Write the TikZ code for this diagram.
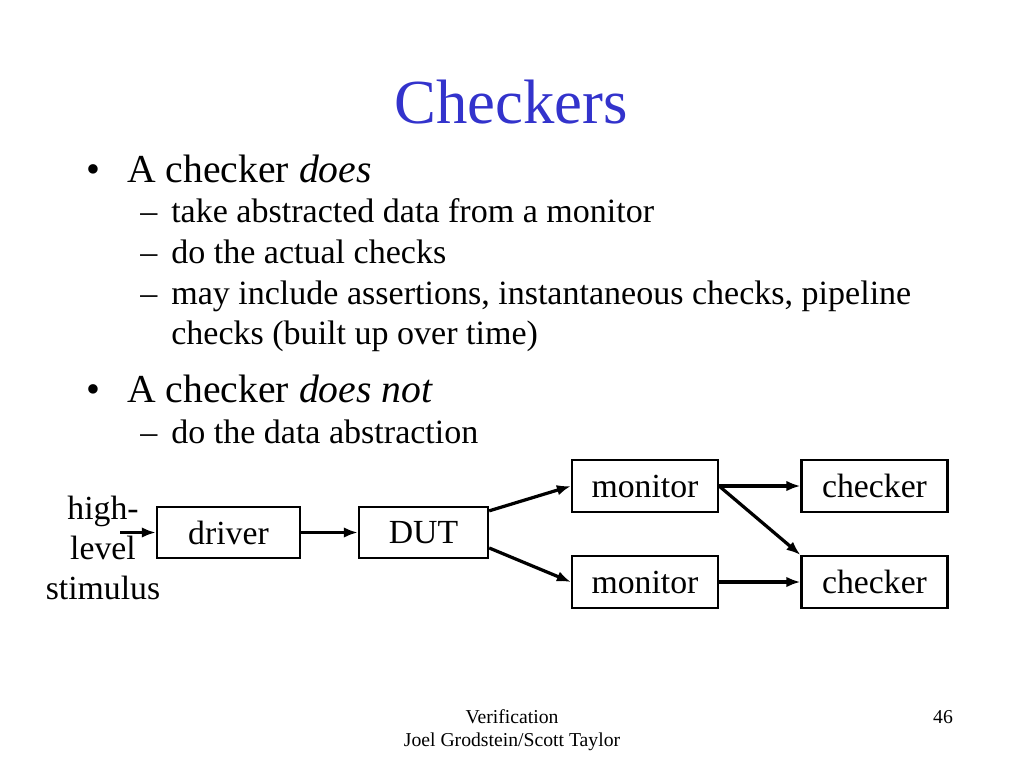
\documentclass[tikz,border=0pt]{standalone}
\usepackage{fontspec}
\setmainfont{Liberation Serif}
\usetikzlibrary{arrows.meta, positioning}
\definecolor{titleblue}{RGB}{51,51,204}
\tikzset{
  box/.style={rectangle, draw=black, fill=white, line width=1.5pt,
    minimum width=3.65cm, minimum height=1.3cm,
    font=\fontsize{24}{28}\selectfont},
  arrow/.style={-{Latex[length=10pt,width=7.5pt]}, line width=2.3pt},
  bodytext/.style={anchor=base west, font=\fontsize{28.2}{34}\selectfont, inner sep=0pt},
  subtext/.style={anchor=base west, font=\fontsize{24.2}{30}\selectfont, inner sep=0pt},
  foot/.style={font=\fontsize{14}{16}\selectfont, inner sep=0pt}
}
\begin{document}
\begin{tikzpicture}[x=0.025cm, y=-0.025cm]
  \useasboundingbox (0,0) rectangle (1024,768);
  \node[font=\fontsize{44.6}{50}\selectfont, text=titleblue] (title) at (511,102) {Checkers};
  % first bullet
  \node[bodytext] (dot1) at (86,182) {\textbullet};
  \node[bodytext] (b1) at (127,182) {A checker \textit{does}};
  \foreach \y/\lab [count=\i] in {222/take abstracted data from a monitor,
      263/do the actual checks,
      304/{may include assertions, instantaneous checks, pipeline}} {
    \node[subtext] (dash\i) at (140,\y) {--};
    \node[subtext] (s\i) at (171,\y) {\lab};
  }
  \node[subtext] (s4) at (171,344) {checks (built up over time)};
  % second bullet
  \node[bodytext] (dot2) at (86,402) {\textbullet};
  \node[bodytext] (b2) at (127,402) {A checker \textit{does not}};
  \node[subtext] (dash5) at (140,443) {--};
  \node[subtext] (s5) at (171,443) {do the data abstraction};
  % diagram
  \node[box, minimum width=3.58cm, minimum height=1.28cm] (driver) at (228.5,532.5) {driver};
  \node[box, minimum width=3.23cm, minimum height=1.28cm] (dut) at (423.5,532.5) {DUT};
  \node[box] (mon1) at (645,486) {monitor};
  \node[box] (mon2) at (645,582) {monitor};
  \node[box] (chk1) at (874.5,486) {checker};
  \node[box] (chk2) at (874.5,582) {checker};
  \node[align=center, font=\fontsize{24}{28.4}\selectfont, inner sep=0pt] (stim) at (103,548) {high-\\level\\stimulus};
  \coordinate (in) at (120,532.5);
  \draw[arrow] (in) -- (driver.west);
  \draw[arrow] (driver) -- (dut);
  \draw[arrow] ([yshift=-0.125cm]dut.north east) -- (mon1.west);
  \draw[arrow] ([yshift=0.28cm]dut.south east) -- (mon2.west);
  \draw[arrow] (mon1) -- (chk1);
  \draw[arrow] (mon1.east) -- (chk2.north west);
  \draw[arrow] (mon2) -- (chk2);
  % footer
  \node[foot] (f1) at (512,717) {Verification};
  \node[foot] (f2) at (512,742) {Joel Grodstein/Scott Taylor};
  \node[foot] (page) at (943,717) {46};
\end{tikzpicture}
\end{document}
